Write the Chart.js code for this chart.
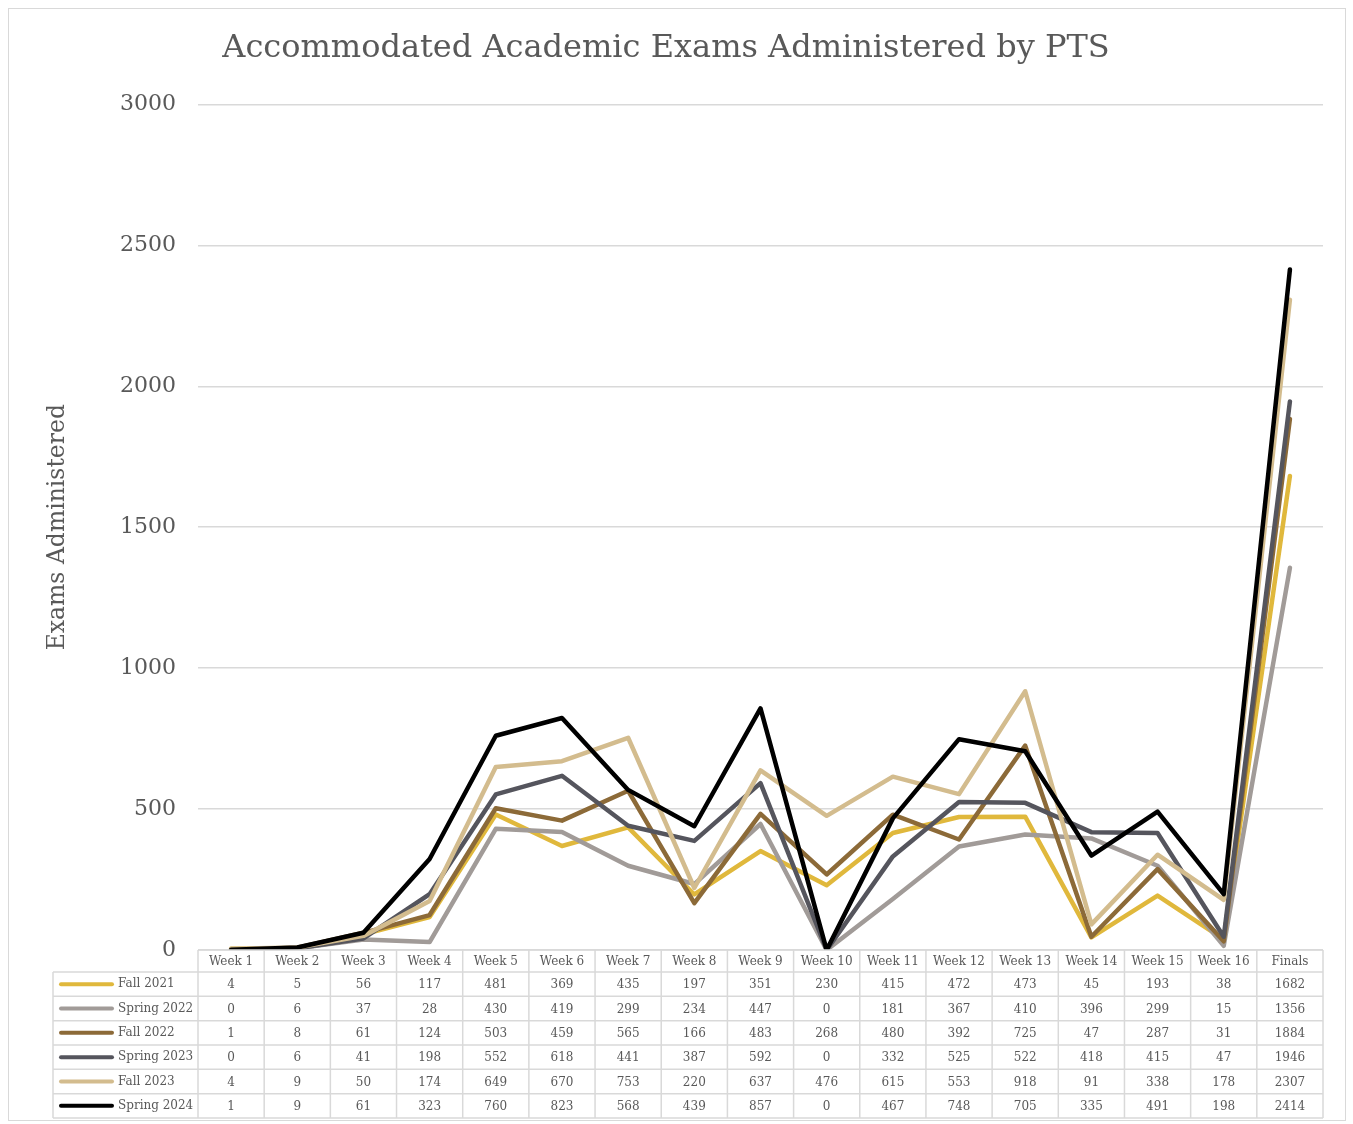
<!DOCTYPE html>
<html>
<head>
<meta charset="utf-8">
<script src="https://cdn.jsdelivr.net/npm/chart.js@4.4.1/dist/chart.umd.min.js"></script>
<style>
  html, body { margin: 0; padding: 0; background: #fff; }
  #wrap { position: absolute; left: 8px; top: 8px; width: 1336px; height: 1111px; border: 1px solid #d9d9d9; }
</style>
</head>
<body>
<div id="wrap"><canvas id="chart"></canvas></div>
<script>
const weeks = ["Week 1", "Week 2", "Week 3", "Week 4", "Week 5", "Week 6", "Week 7", "Week 8", "Week 9",
  "Week 10", "Week 11", "Week 12", "Week 13", "Week 14", "Week 15", "Week 16", "Finals"];

const fall2021 = [4, 5, 56, 117, 481, 369, 435, 197, 351, 230, 415, 472, 473, 45, 193, 38, 1682];
const spring2022 = [0, 6, 37, 28, 430, 419, 299, 234, 447, 0, 181, 367, 410, 396, 299, 15, 1356];
const fall2022 = [1, 8, 61, 124, 503, 459, 565, 166, 483, 268, 480, 392, 725, 47, 287, 31, 1884];
const spring2023 = [0, 6, 41, 198, 552, 618, 441, 387, 592, 0, 332, 525, 522, 418, 415, 47, 1946];
const fall2023 = [4, 9, 50, 174, 649, 670, 753, 220, 637, 476, 615, 553, 918, 91, 338, 178, 2307];
const spring2024 = [1, 9, 61, 323, 760, 823, 568, 439, 857, 0, 467, 748, 705, 335, 491, 198, 2414];

const seriesNames = ["Fall 2021", "Spring 2022", "Fall 2022", "Spring 2023", "Fall 2023", "Spring 2024"];
const seriesValues = [fall2021, spring2022, fall2022, spring2023, fall2023, spring2024];
const seriesColors = ["#E0B83C", "#A19B98", "#8C6A38", "#55555D", "#D3BC8E", "#000000"];

const FONT = "'DejaVu Serif', 'Liberation Serif', serif";
const TEXT = "#595959";
const GRID = "#d9d9d9";

// data table under the plot, drawn on the x scale's space
const dataTable = {
  id: "dataTable",
  afterDraw(chart) {
    const { ctx, chartArea } = chart;
    const xs = chart.scales.x;
    const top = chartArea.bottom;
    const left = chartArea.left;
    const right = chartArea.right;
    const colW = (right - left) / weeks.length;
    const headH = 22;
    const bottom = xs.bottom;
    const rowH = (bottom - top - headH) / seriesNames.length;
    const legendLeft = 44;

    ctx.save();
    ctx.strokeStyle = GRID;
    ctx.lineWidth = 1.5;
    ctx.beginPath();
    ctx.moveTo(left, top);
    ctx.lineTo(right, top);
    for (let r = 0; r <= seriesNames.length; r++) {
      const y = top + headH + r * rowH;
      ctx.moveTo(legendLeft, y);
      ctx.lineTo(right, y);
    }
    for (let c = 0; c <= weeks.length; c++) {
      const x = left + c * colW;
      ctx.moveTo(x, top);
      ctx.lineTo(x, bottom);
    }
    ctx.moveTo(legendLeft, top + headH);
    ctx.lineTo(legendLeft, bottom);
    ctx.stroke();

    ctx.fillStyle = TEXT;
    ctx.font = "12px " + FONT;
    ctx.textAlign = "center";
    ctx.textBaseline = "middle";
    weeks.forEach((w, i) => {
      ctx.fillText(w, xs.getPixelForValue(i), top + headH / 2 + 1);
    });

    seriesNames.forEach((name, r) => {
      const cy = top + headH + r * rowH + rowH / 2;
      ctx.strokeStyle = seriesColors[r];
      ctx.lineWidth = 4;
      ctx.lineCap = "round";
      ctx.beginPath();
      ctx.moveTo(legendLeft + 8, cy);
      ctx.lineTo(legendLeft + 59, cy);
      ctx.stroke();
      ctx.fillStyle = TEXT;
      ctx.textAlign = "left";
      ctx.fillText(name, legendLeft + 65, cy);
      ctx.textAlign = "center";
      seriesValues[r].forEach((v, i) => {
        ctx.fillText(String(v), xs.getPixelForValue(i), cy + 1);
      });
    });
    ctx.restore();
  },
};

const datasets = seriesNames.map((name, i) => ({
  label: name,
  data: seriesValues[i],
  borderColor: seriesColors[i],
  backgroundColor: seriesColors[i],
  borderWidth: 4.5,
  pointRadius: 0,
  tension: 0,
  borderJoinStyle: "round",
  borderCapStyle: "round",
  order: seriesNames.length - i,
}));

new Chart(document.getElementById("chart"), {
  type: "line",
  data: { labels: weeks, datasets },
  options: {
    responsive: true,
    maintainAspectRatio: false,
    animation: false,
    layout: { padding: { left: 0, right: 22, top: 0, bottom: 2 } },
    plugins: {
      legend: { display: false },
      tooltip: { enabled: false },
      title: {
        display: true,
        text: "Accommodated Academic Exams Administered by PTS",
        color: TEXT,
        font: { family: FONT, size: 32, weight: "normal" },
        padding: { top: 20, bottom: 37 },
      },
    },
    scales: {
      x: {
        offset: true,
        grid: { display: false },
        border: { display: false },
        ticks: { display: false },
        afterFit(s) { s.height = 168; },
      },
      y: {
        min: 0,
        max: 3000,
        ticks: {
          stepSize: 500,
          color: TEXT,
          font: { family: FONT, size: 22 },
          padding: 22,
          callback: (v) => String(v),
        },
        grid: { color: GRID, lineWidth: 1.5, drawTicks: false },
        border: { display: false },
        title: {
          display: true,
          text: "Exams Administered",
          color: TEXT,
          font: { family: FONT, size: 23.5 },
          padding: { top: 35, bottom: 0 },
        },
        afterFit(s) { s.width = 189; },
      },
    },
  },
  plugins: [dataTable],
});
</script>
</body>
</html>
